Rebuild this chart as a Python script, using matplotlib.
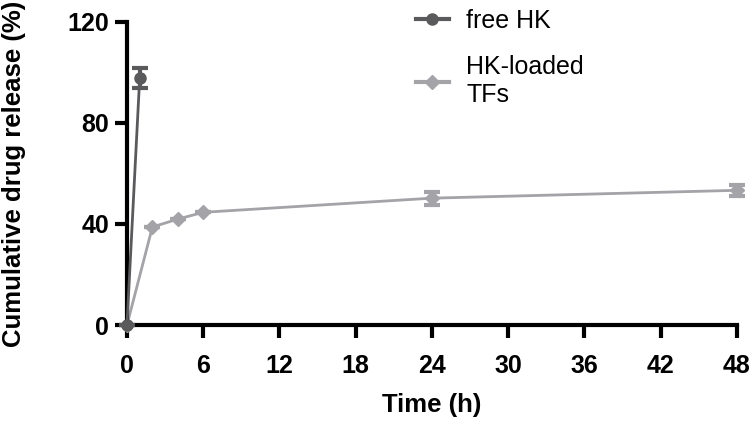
import numpy as np
import matplotlib.pyplot as plt
from matplotlib.lines import Line2D

plt.rcParams['font.family'] = ['Liberation Sans', 'DejaVu Sans']

# DATA
free_t = [0, 1]
free_y = [0, 97.7]
free_err = [0, 4]

tf_t = [0, 2, 4, 6, 24, 48]
tf_y = [0, 38.8, 41.9, 44.6, 50.2, 53.3]
tf_err = [0, 0, 0, 0, 2.6, 2.2]

x_ticks = [0, 6, 12, 18, 24, 30, 36, 42, 48]
y_ticks = [0, 40, 80, 120]

DARK = '#5a5a5d'
LIGHT = '#a3a3a8'

fig = plt.figure(figsize=(7.5, 4.26), dpi=100)
ax = fig.add_axes([0.1693, 0.237, 0.8133, 0.712])

ax.errorbar(free_t, free_y, yerr=free_err, color=DARK, marker='o', markersize=8,
            linewidth=2, elinewidth=3, capsize=6, capthick=3,
            clip_on=False, zorder=3)
ax.errorbar(tf_t, tf_y, yerr=tf_err, color=LIGHT, marker='D', markersize=7.5,
            linewidth=2, elinewidth=3, capsize=6, capthick=3,
            clip_on=False, zorder=2)

ax.set_xlim(0, 48)
ax.set_ylim(0, 120)
ax.set_xticks(x_ticks)
ax.set_yticks(y_ticks)

for s in ['top', 'right']:
    ax.spines[s].set_visible(False)
for s in ['left', 'bottom']:
    ax.spines[s].set_linewidth(3)
ax.tick_params(width=3, length=9, labelsize=18)
ax.tick_params(axis='x', pad=12)
ax.tick_params(axis='y', pad=4)
for lbl in ax.get_xticklabels() + ax.get_yticklabels():
    lbl.set_fontweight('bold')

ax.set_xlabel('Time (h)', fontsize=18.5, fontweight='bold', labelpad=11)
ax.set_ylabel('Cumulative drug release (%)', fontsize=18.5, fontweight='bold', labelpad=30)

handles = [Line2D([], [], color=DARK, marker='o', markersize=8, linewidth=3),
           Line2D([], [], color=LIGHT, marker='D', markersize=7.5, linewidth=3)]
leg = ax.legend(handles, ['free HK', 'HK-loaded\nTFs'], loc='upper left',
                bbox_to_anchor=(0.437, 1.117), frameon=False, fontsize=18,
                handlelength=1.3, handletextpad=0.7, labelspacing=0.9)

fig.savefig('out.png', dpi=100)
